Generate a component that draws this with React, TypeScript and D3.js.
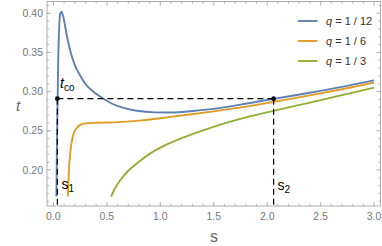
import React from "react";
import * as d3 from "d3";

const W = 382;
const H = 246;

const blueS = [0.028, 0.032, 0.038, 0.045, 0.055, 0.065, 0.075, 0.09, 0.11, 0.14, 0.17, 0.2, 0.25, 0.3, 0.36, 0.466, 0.55, 0.65, 0.78, 0.95, 1.1, 1.3, 1.5, 1.84, 2.06, 2.4, 2.7, 3.0];
const blueT = [0.166, 0.22, 0.28, 0.34, 0.385, 0.4, 0.402, 0.397, 0.383, 0.362, 0.346, 0.334, 0.3205, 0.3095, 0.3015, 0.2912, 0.2845, 0.2795, 0.2755, 0.2735, 0.2733, 0.2752, 0.278, 0.2855, 0.2908, 0.2985, 0.306, 0.3144];

const orangeS = [0.134, 0.138, 0.145, 0.16, 0.18, 0.21, 0.25, 0.3, 0.4, 0.5, 0.6, 0.8, 1.0, 1.2, 1.5, 1.8, 2.06, 2.4, 2.7, 3.0];
const orangeT = [0.166, 0.18, 0.2, 0.225, 0.242, 0.252, 0.2575, 0.2595, 0.2602, 0.2605, 0.261, 0.263, 0.266, 0.2695, 0.2748, 0.2808, 0.287, 0.2952, 0.303, 0.3115];

const greenS = [0.54, 0.57, 0.62, 0.7, 0.8, 0.9, 1.0, 1.2, 1.4, 1.6, 1.8, 2.06, 2.4, 2.7, 3.0];
const greenT = [0.166, 0.175, 0.186, 0.199, 0.2105, 0.2205, 0.2285, 0.2405, 0.2505, 0.2595, 0.2672, 0.2755, 0.286, 0.2955, 0.305];

const legendLabels = ["q = 1/12", "q = 1/6", "q = 1/3"];
const colors = ["#5E81B5", "#E19C24", "#8FB032"];

const xTicks = [0, 0.5, 1.0, 1.5, 2.0, 2.5, 3.0];
const yTicks = [0.2, 0.25, 0.3, 0.35, 0.4];

const s1 = 0.037;
const s2 = 2.06;
const tco = 0.291;

export default function App() {
  const x = d3.scaleLinear().domain([-0.06, 3.06]).range([47, 380.5]);
  const y = d3.scaleLinear().domain([0.154, 0.415]).range([206, 1.5]);
  const line = d3
    .line<[number, number]>()
    .x((d) => x(d[0]))
    .y((d) => y(d[1]))
    .curve(d3.curveMonotoneX);

  const series = [
    blueS.map((s, i) => [s, blueT[i]] as [number, number]),
    orangeS.map((s, i) => [s, orangeT[i]] as [number, number]),
    greenS.map((s, i) => [s, greenT[i]] as [number, number]),
  ];

  const xMinor = d3.range(0, 3.0001, 0.1).filter((v) => !xTicks.some((t) => Math.abs(t - v) < 1e-6));
  const yMinor = d3.range(0.16, 0.4101, 0.01).filter((v) => !yTicks.some((t) => Math.abs(t - v) < 1e-6));

  const [x0, x1] = x.range();
  const [y0, y1] = y.range();
  const frame = "#9a9a9a";
  const font = "'Liberation Sans', Arial, sans-serif";

  return (
    <svg width={W} height={H} style={{ position: "absolute", left: 0, top: 0 }}>
      <rect x={0} y={0} width={W} height={H} fill="white" />
      <defs>
        <clipPath id="plot">
          <rect x={x0} y={y1} width={x1 - x0} height={y0 - y1} />
        </clipPath>
      </defs>
      <rect x={x0} y={y1} width={x1 - x0} height={y0 - y1} fill="none" stroke={frame} strokeWidth={0.8} />
      {xTicks.map((t) => (
        <g key={"xt" + t}>
          <line x1={x(t)} x2={x(t)} y1={y0} y2={y0 - 4} stroke={frame} strokeWidth={0.8} />
          <line x1={x(t)} x2={x(t)} y1={y1} y2={y1 + 4} stroke={frame} strokeWidth={0.8} />
          <text x={x(t)} y={219.5} textAnchor="middle" fontSize={10.5} fill="#777" fontFamily={font}>
            {t.toFixed(1)}
          </text>
        </g>
      ))}
      {xMinor.map((t) => (
        <g key={"xm" + t}>
          <line x1={x(t)} x2={x(t)} y1={y0} y2={y0 - 2.2} stroke={frame} strokeWidth={0.7} />
          <line x1={x(t)} x2={x(t)} y1={y1} y2={y1 + 2.2} stroke={frame} strokeWidth={0.7} />
        </g>
      ))}
      {yTicks.map((t) => (
        <g key={"yt" + t}>
          <line x1={x0} x2={x0 + 4} y1={y(t)} y2={y(t)} stroke={frame} strokeWidth={0.8} />
          <line x1={x1} x2={x1 - 4} y1={y(t)} y2={y(t)} stroke={frame} strokeWidth={0.8} />
          <text x={43} y={y(t) + 3.7} textAnchor="end" fontSize={10.5} fill="#777" fontFamily={font}>
            {t.toFixed(2)}
          </text>
        </g>
      ))}
      {yMinor.map((t) => (
        <g key={"ym" + t}>
          <line x1={x0} x2={x0 + 2.2} y1={y(t)} y2={y(t)} stroke={frame} strokeWidth={0.7} />
          <line x1={x1} x2={x1 - 2.2} y1={y(t)} y2={y(t)} stroke={frame} strokeWidth={0.7} />
        </g>
      ))}
      <text x={18} y={111} textAnchor="middle" fontSize={15} fontStyle="italic" fill="#666" fontFamily={font}>
        t
      </text>
      <text x={214} y={241.5} textAnchor="middle" fontSize={16} fill="#666" fontFamily={font}>
        s
      </text>
      <g clipPath="url(#plot)">
        {series.map((d, i) => (
          <path key={i} d={line(d) || ""} fill="none" stroke={colors[i]} strokeWidth={1.9} />
        ))}
      </g>
      <line x1={x(s1)} x2={x(s2)} y1={y(tco)} y2={y(tco)} stroke="black" strokeWidth={1.2} strokeDasharray="6,4" />
      <line x1={x(s1)} x2={x(s1)} y1={y(tco)} y2={y0} stroke="black" strokeWidth={1.2} strokeDasharray="6,4" />
      <line x1={x(s2)} x2={x(s2)} y1={y(tco)} y2={y0} stroke="black" strokeWidth={1.2} strokeDasharray="6,4" />
      <circle cx={x(s1)} cy={y(tco)} r={2.4} fill="black" />
      <circle cx={x(s2)} cy={y(tco)} r={2.4} fill="black" />
      <text x={60} y={88} fontSize={14} fill="black" fontFamily={font}>
        <tspan fontStyle="italic">t</tspan>
        <tspan fontSize={10} dy={3}>co</tspan>
      </text>
      <text x={61.5} y={189} fontSize={14} fill="black" fontFamily={font}>
        s<tspan fontSize={10} dy={3}>1</tspan>
      </text>
      <text x={277.5} y={190} fontSize={14} fill="black" fontFamily={font}>
        s<tspan fontSize={10} dy={3}>2</tspan>
      </text>
      {legendLabels.map((l, i) => {
        const parts = l.split(" = ");
        return (
          <g key={l}>
            <line x1={298} x2={317.5} y1={21 + i * 20} y2={21 + i * 20} stroke={colors[i]} strokeWidth={1.9} />
            <text x={326} y={25 + i * 20} fontSize={11} fill="#333" fontFamily={font}>
              <tspan fontStyle="italic">{parts[0]}</tspan>
              {" = " + parts[1].replace("/", " / ")}
            </text>
          </g>
        );
      })}
    </svg>
  );
}
